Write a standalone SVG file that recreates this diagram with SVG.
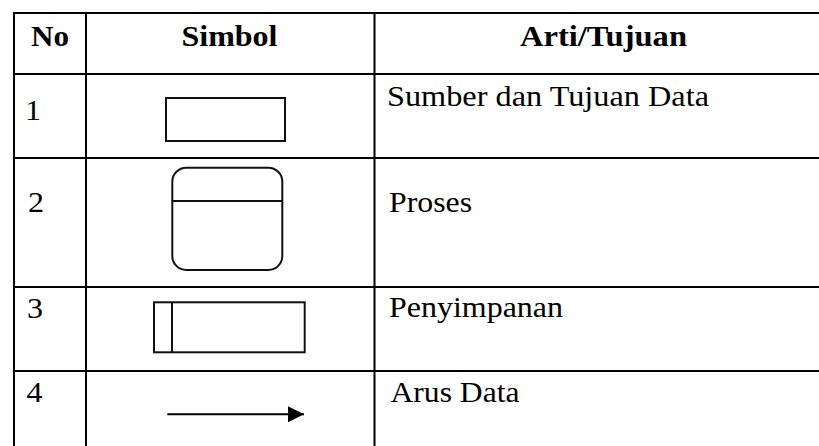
<svg xmlns="http://www.w3.org/2000/svg" width="819" height="446" viewBox="0 0 819 446">
<style>
.grid{stroke:#000;stroke-width:2;fill:none}
.sym{stroke:#111;stroke-width:2;fill:none}
.h{font-family:"Liberation Serif","Times New Roman",serif;font-size:29px;font-weight:bold;fill:#000}
.t{font-family:"Liberation Serif","Times New Roman",serif;font-size:29px;fill:#000}
</style>
<defs>
<marker id="ah" markerWidth="16" markerHeight="16" refX="16" refY="8" orient="auto" markerUnits="userSpaceOnUse">
<path d="M0,0 L16,8 L0,16 Z" fill="#000"/>
</marker>
</defs>
<rect width="819" height="446" fill="#fff"/>
<g id="table-grid" class="grid">
<line x1="13" y1="13" x2="819" y2="13"/>
<line x1="13" y1="74" x2="819" y2="74"/>
<line x1="13" y1="158" x2="819" y2="158"/>
<line x1="13" y1="287" x2="819" y2="287"/>
<line x1="13" y1="371" x2="819" y2="371"/>
<line x1="14" y1="12" x2="14" y2="446"/>
<line x1="86" y1="12" x2="86" y2="446"/>
<line x1="374.5" y1="12" x2="374.5" y2="446"/>
</g>
<g id="header">
<text class="h" x="31" y="45.5" textLength="38" lengthAdjust="spacingAndGlyphs">No</text>
<text class="h" x="181.5" y="45.5" textLength="96" lengthAdjust="spacingAndGlyphs">Simbol</text>
<text class="h" x="520" y="45.5" textLength="167" lengthAdjust="spacingAndGlyphs">Arti/Tujuan</text>
</g>
<g id="row1">
<text class="t" x="25" y="119.5" textLength="16" lengthAdjust="spacingAndGlyphs">1</text>
<rect id="sym-entity" class="sym" x="166" y="98" width="119" height="43" stroke-width="1.6"/>
<text class="t" x="387" y="106" textLength="322" lengthAdjust="spacingAndGlyphs">Sumber dan Tujuan Data</text>
</g>
<g id="row2">
<text class="t" x="28" y="211.7" textLength="16" lengthAdjust="spacingAndGlyphs">2</text>
<g id="sym-process" class="sym">
<rect x="172.3" y="167.7" width="110" height="102.3" rx="14" ry="14"/>
<line x1="172.3" y1="201" x2="282.3" y2="201"/>
</g>
<text class="t" x="389" y="212" textLength="83" lengthAdjust="spacingAndGlyphs">Proses</text>
</g>
<g id="row3">
<text class="t" x="27" y="318" textLength="16" lengthAdjust="spacingAndGlyphs">3</text>
<g id="sym-store" class="sym" stroke-width="1.8">
<rect x="154" y="302.3" width="150.7" height="50"/>
<line x1="172" y1="302.3" x2="172" y2="352.3"/>
</g>
<text class="t" x="389" y="317.3" textLength="174" lengthAdjust="spacingAndGlyphs">Penyimpanan</text>
</g>
<g id="row4">
<text class="t" x="26.5" y="401.7" textLength="16" lengthAdjust="spacingAndGlyphs">4</text>
<g id="connectors">
<line x1="167.3" y1="414.3" x2="304" y2="414.3" stroke="#000" stroke-width="2" marker-end="url(#ah)"/>
</g>
<text class="t" x="390.5" y="401.7" textLength="129" lengthAdjust="spacingAndGlyphs">Arus Data</text>
</g>
</svg>
